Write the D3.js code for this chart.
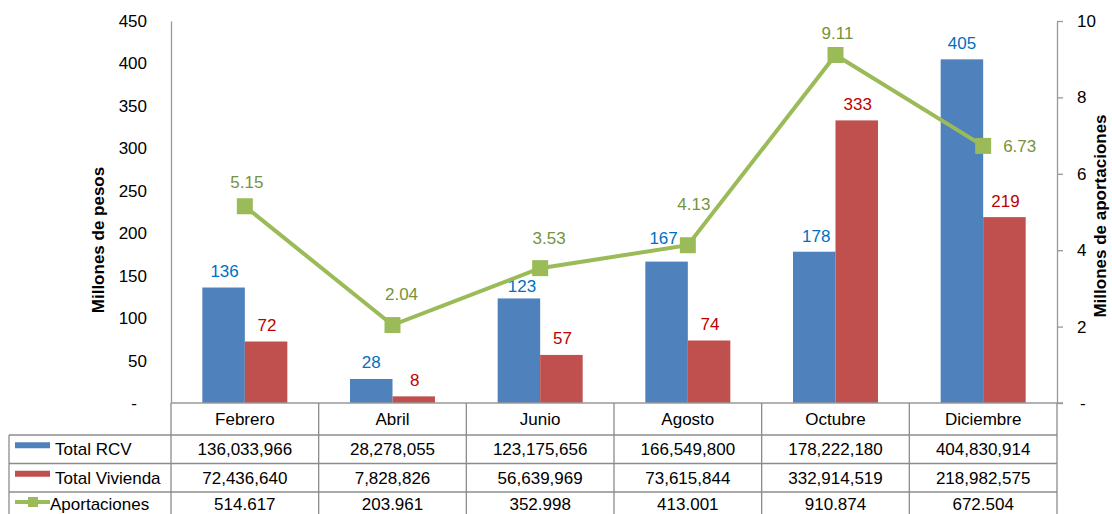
<!DOCTYPE html>
<html>
<head>
<meta charset="utf-8">
<script src="https://cdn.jsdelivr.net/npm/d3@7"></script>
<style>
  html, body { margin: 0; padding: 0; background: #fff; }
  svg { display: block; font-family: "Liberation Sans", Arial, sans-serif; }
</style>
</head>
<body>
<svg id="chart" width="1112" height="514"></svg>
<script>
// ---------- data ----------
const months = ["Febrero", "Abril", "Junio", "Agosto", "Octubre", "Diciembre"];
const totalRCV = [136033966, 28278055, 123175656, 166549800, 178222180, 404830914];
const totalVivienda = [72436640, 7828826, 56639969, 73615844, 332914519, 218982575];
const aportaciones = [5.15, 2.04, 3.53, 4.13, 9.11, 6.73];
const aportacionesTabla = ["514.617", "203.961", "352.998", "413.001", "910.874", "672.504"];
const leftTicks = [0, 50, 100, 150, 200, 250, 300, 350, 400, 450];
const rightTicks = [0, 2, 4, 6, 8, 10];
const seriesNames = ["Total RCV", "Total Vivienda", "Aportaciones"];

// ---------- style / layout ----------
const C = {
  blue: "#4F81BD", red: "#C0504D", green: "#9BBB59",
  blueLbl: "#0070C0", redLbl: "#C00000", greenLbl: "#77933C",
  axis: "#999999", grid: "#8C8C8C", text: "#000"
};
const plotL = 171, plotR = 1057, plotT = 21, plotB = 403;
const rowEdges = [403, 435, 463.5, 492, 520.5];
const tableLeft = 9;
const groupW = 85;
const fs = 17;
// label nudges [dx, dy]
const lineLabelNudge = [[2, -18], [9, -25], [9, -24], [6, -35], [2, -16], [20, 6]];
const lineLabelAnchor = ["middle", "middle", "middle", "middle", "middle", "start"];
const rcvLabelNudge = [[1, 0], [0, 0], [3, 4], [-3, -7.5], [2, 1], [0, 0]];

const svg = d3.select("#chart");

const x = d3.scaleBand().domain(months).range([plotL, plotR]);
const bw = x.bandwidth();
const x1 = d3.scaleBand().domain(["rcv", "viv"]).range([(bw - groupW) / 2, (bw + groupW) / 2]);
const yL = d3.scaleLinear().domain([0, 450]).range([plotB, plotT]);
const yR = d3.scaleLinear().domain([0, 10]).range([plotB, plotT]);

const mill = v => v / 1e6;

// ---------- bars ----------
const barData = months.map((m, i) => ({ m, i, rcv: mill(totalRCV[i]), viv: mill(totalVivienda[i]) }));
const g = svg.append("g");
g.selectAll("rect.rcv").data(barData).join("rect")
  .attr("x", d => x(d.m) + x1("rcv")).attr("width", x1.bandwidth())
  .attr("y", d => yL(d.rcv)).attr("height", d => plotB - yL(d.rcv))
  .attr("fill", C.blue);
g.selectAll("rect.viv").data(barData).join("rect")
  .attr("x", d => x(d.m) + x1("viv")).attr("width", x1.bandwidth())
  .attr("y", d => yL(d.viv)).attr("height", d => plotB - yL(d.viv))
  .attr("fill", C.red);

g.selectAll("text.rcvl").data(barData).join("text")
  .attr("x", d => x(d.m) + x1("rcv") + x1.bandwidth() / 2 + rcvLabelNudge[d.i][0])
  .attr("y", d => yL(d.rcv) - 10.5 + rcvLabelNudge[d.i][1])
  .attr("text-anchor", "middle").attr("font-size", fs).attr("fill", C.blueLbl)
  .text(d => Math.round(d.rcv));
g.selectAll("text.vivl").data(barData).join("text")
  .attr("x", d => x(d.m) + x1("viv") + x1.bandwidth() / 2 + 1)
  .attr("y", d => yL(d.viv) - 10.5)
  .attr("text-anchor", "middle").attr("font-size", fs).attr("fill", C.redLbl)
  .text(d => Math.round(d.viv));

// ---------- axes ----------
const axL = d3.axisLeft(yL).tickValues(leftTicks).tickSize(0).tickPadding(24)
  .tickFormat(d => d === 0 ? "-" : d);
const gL = svg.append("g").attr("transform", `translate(${plotL},0)`).call(axL);
gL.select(".domain").attr("stroke", C.axis).attr("stroke-width", 1.3);
gL.selectAll("text").attr("font-size", fs).attr("fill", C.text)
  .attr("font-family", "Liberation Sans, Arial, sans-serif")
  .attr("dx", d => d === 0 ? -10 : 0);

const axR = d3.axisRight(yR).tickValues(rightTicks).tickSize(6).tickSizeOuter(0).tickPadding(14)
  .tickFormat(d => d === 0 ? "-" : d);
const gR = svg.append("g").attr("transform", `translate(${plotR},0)`).call(axR);
gR.select(".domain").attr("stroke", C.axis).attr("stroke-width", 1.3);
gR.selectAll("line").attr("stroke", C.axis).attr("stroke-width", 1.3);
gR.selectAll("text").attr("font-size", fs).attr("fill", C.text)
  .attr("font-family", "Liberation Sans, Arial, sans-serif")
  .attr("dx", d => d === 0 ? 3 : 0);

// axis titles
svg.append("text").attr("transform", `translate(104,240) rotate(-90)`)
  .attr("text-anchor", "middle").attr("font-size", 17).attr("font-weight", "bold")
  .text("Millones de pesos");
svg.append("text").attr("transform", `translate(1106,216) rotate(-90)`)
  .attr("text-anchor", "middle").attr("font-size", 17).attr("font-weight", "bold")
  .text("Millones de aportaciones");

// ---------- line ----------
const lineData = months.map((m, i) => ({ m, v: aportaciones[i], i }));
const line = d3.line().x(d => x(d.m) + bw / 2).y(d => yR(d.v));
svg.append("path").datum(lineData).attr("d", line)
  .attr("fill", "none").attr("stroke", C.green).attr("stroke-width", 4).attr("stroke-linejoin", "miter");
svg.selectAll("rect.mk").data(lineData).join("rect")
  .attr("x", d => x(d.m) + bw / 2 - 8).attr("y", d => yR(d.v) - 8)
  .attr("width", 16).attr("height", 16).attr("fill", C.green);
svg.selectAll("text.ml").data(lineData).join("text")
  .attr("x", d => x(d.m) + bw / 2 + lineLabelNudge[d.i][0])
  .attr("y", d => yR(d.v) + lineLabelNudge[d.i][1])
  .attr("text-anchor", d => lineLabelAnchor[d.i])
  .attr("font-size", fs).attr("fill", C.greenLbl)
  .text(d => d.v.toFixed(2));

// ---------- data table ----------
const t = svg.append("g").attr("stroke", C.grid).attr("stroke-width", 1.3);
t.append("line").attr("x1", plotL).attr("x2", plotR + 6).attr("y1", rowEdges[0]).attr("y2", rowEdges[0]).attr("stroke", C.axis);
rowEdges.slice(1).forEach(y => {
  t.append("line").attr("x1", tableLeft).attr("x2", plotR).attr("y1", y).attr("y2", y);
});
const colEdges = months.map(m => x(m)).concat([plotR]);
colEdges.forEach(xx => {
  t.append("line").attr("x1", xx).attr("x2", xx).attr("y1", rowEdges[0]).attr("y2", 514);
});
t.append("line").attr("x1", tableLeft).attr("x2", tableLeft).attr("y1", rowEdges[1]).attr("y2", 514);

const rowMid = i => (rowEdges[i] + rowEdges[i + 1]) / 2;
const rowTextY = [rowMid(0), rowMid(1), rowMid(2), 504];
const fmt = d3.format(",");
svg.selectAll("text.hdr").data(months).join("text")
  .attr("x", d => x(d) + bw / 2).attr("y", rowTextY[0]).attr("dy", "0.36em")
  .attr("text-anchor", "middle").attr("font-size", fs).text(d => d);
const rows = [totalRCV.map(fmt), totalVivienda.map(fmt), aportacionesTabla];
rows.forEach((vals, r) => {
  svg.selectAll(`text.r${r}`).data(vals).join("text")
    .attr("x", (d, i) => x(months[i]) + bw / 2).attr("y", rowTextY[r + 1]).attr("dy", "0.36em")
    .attr("text-anchor", "middle").attr("font-size", fs).text(d => d);
});

// legend keys
const lg = svg.append("g");
lg.append("rect").attr("x", 15).attr("y", rowTextY[1] - 7).attr("width", 35).attr("height", 6).attr("fill", C.blue);
lg.append("rect").attr("x", 15).attr("y", rowTextY[2] - 7).attr("width", 35).attr("height", 6).attr("fill", C.red);
lg.append("line").attr("x1", 15).attr("x2", 50).attr("y1", rowTextY[3] - 2).attr("y2", rowTextY[3] - 2)
  .attr("stroke", C.green).attr("stroke-width", 4);
lg.append("rect").attr("x", 28).attr("y", rowTextY[3] - 7).attr("width", 10).attr("height", 10).attr("fill", C.green);
const lgX = [55, 55, 50];
seriesNames.forEach((s, i) => {
  lg.append("text").attr("x", lgX[i]).attr("y", rowTextY[i + 1]).attr("dy", "0.36em")
    .attr("font-size", fs).text(s);
});
</script>
</body>
</html>
